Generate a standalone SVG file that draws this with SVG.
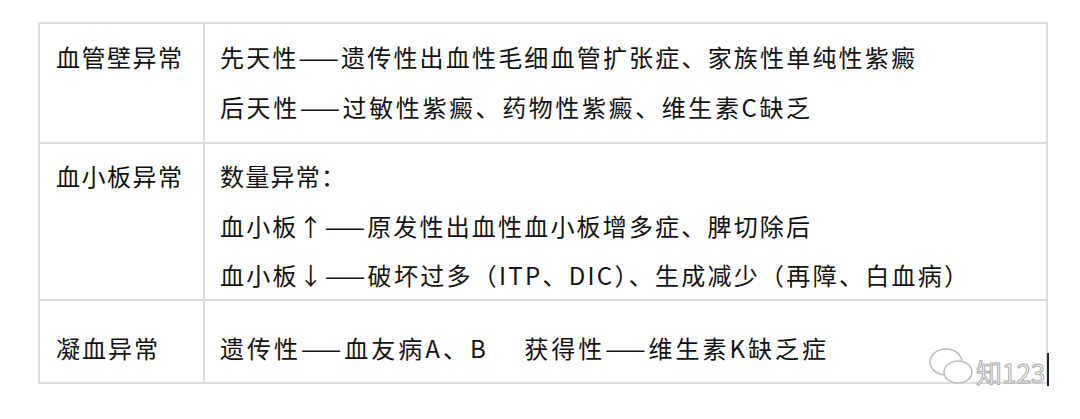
<svg xmlns="http://www.w3.org/2000/svg" width="1080" height="419" viewBox="0 0 1080 419">
<style>
.t{font-family:"Noto Sans CJK SC","Liberation Sans",sans-serif;font-size:24px;fill:#111}
.g{stroke:#dcdcdc;stroke-width:2;fill:none}
</style>
<rect width="1080" height="419" fill="#fff"/>
<g id="grid">
<rect class="g" x="39" y="23" width="1008" height="360"/>
<line class="g" x1="204" y1="23" x2="204" y2="383"/>
<line class="g" x1="39" y1="143" x2="1047" y2="143"/>
<line class="g" x1="39" y1="300" x2="1047" y2="300"/>
</g>
<g id="row1">
<text class="t" x="56" y="67" textLength="126" lengthAdjust="spacing">血管壁异常</text>
<text class="t" x="220" y="67" textLength="695" lengthAdjust="spacing">先天性——遗传性出血性毛细血管扩张症、家族性单纯性紫癜</text>
<text class="t" x="220" y="117" textLength="590" lengthAdjust="spacing">后天性——过敏性紫癜、药物性紫癜、维生素C缺乏</text>
</g>
<g id="row2">
<text class="t" x="56" y="186" textLength="126" lengthAdjust="spacing">血小板异常</text>
<text class="t" x="220" y="186" textLength="125" lengthAdjust="spacing">数量异常：</text>
<text class="t" x="220" y="236" textLength="590" lengthAdjust="spacing">血小板↑——原发性出血性血小板增多症、脾切除后</text>
<text class="t" x="220" y="285" textLength="748" lengthAdjust="spacing">血小板↓——破坏过多（ITP、DIC）、生成减少（再障、白血病）</text>
</g>
<g id="row3">
<text class="t" x="56" y="358" textLength="102" lengthAdjust="spacing">凝血异常</text>
<text class="t" x="220" y="358" textLength="606" lengthAdjust="spacing">遗传性——血友病A、B　 获得性——维生素K缺乏症</text>
</g>
<g id="watermark">
<ellipse cx="946" cy="362" rx="16" ry="13" fill="#fff" stroke="#bbb" stroke-width="1.5"/>
<ellipse cx="958" cy="372" rx="14" ry="11" fill="#fff" stroke="#bbb" stroke-width="1.5"/>
<text x="976" y="383" font-family="Noto Sans CJK SC,Liberation Sans,sans-serif" font-size="26" fill="#fff" stroke="#aaa" stroke-width="1">知123</text>
<line x1="1048" y1="353" x2="1048" y2="386" stroke="#222" stroke-width="2"/>
</g>
</svg>
